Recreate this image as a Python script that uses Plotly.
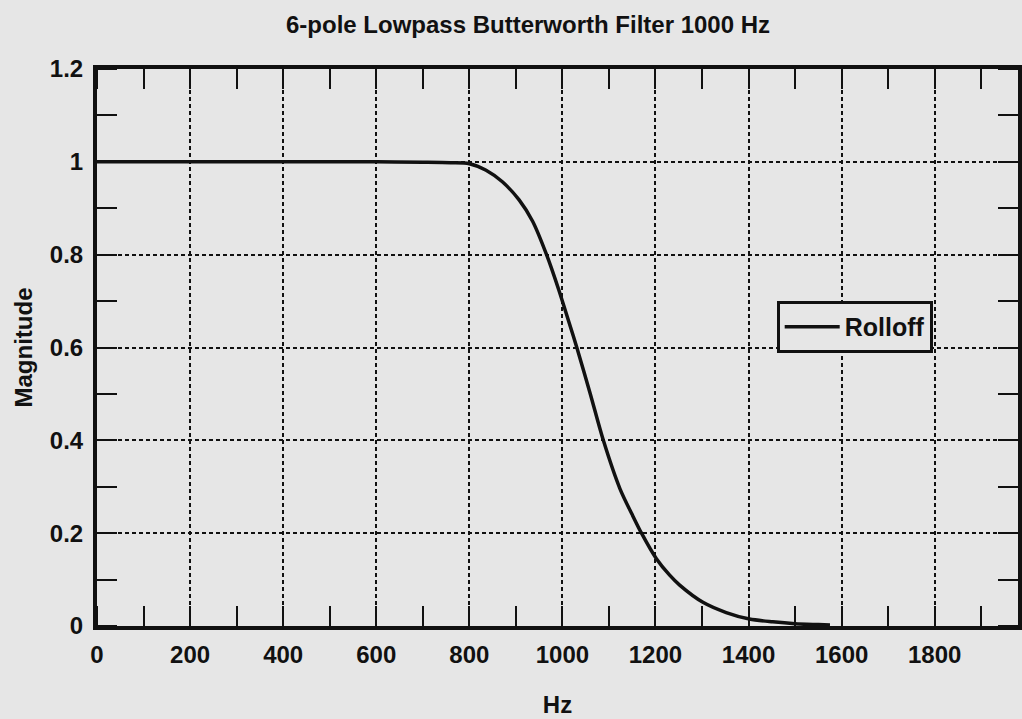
"""6-pole lowpass Butterworth rolloff, scanned-plot look."""
import plotly.graph_objects as go

# values
freq_hz = [0, 200, 400, 600, 700, 760, 800, 836, 871, 907, 936, 966, 992,
           1014, 1031, 1060, 1088, 1124, 1150, 1170, 1202, 1230, 1252, 1302,
           1352, 1402, 1452, 1500, 1550, 1575]
magnitude = [1.0, 1.0, 1.0, 1.0, 0.999, 0.998, 0.996, 0.982, 0.957, 0.918,
             0.872, 0.80, 0.725, 0.655, 0.60, 0.50, 0.40, 0.295, 0.24, 0.20,
             0.145, 0.11, 0.088, 0.051, 0.029, 0.015, 0.009, 0.005, 0.003,
             0.002]

x_labels = [0, 200, 400, 600, 800, 1000, 1200, 1400, 1600, 1800]
y_labels = [0, 0.2, 0.4, 0.6, 0.8, 1, 1.2]

PAPER = "#e6e6e6"
INK = "#111111"
FONT = "Liberation Sans, Arial, sans-serif"

fig = go.Figure()
fig.add_trace(
    go.Scatter(
        x=freq_hz, y=magnitude, mode="lines", name="Rolloff",
        line=dict(color=INK, width=3.5, shape="spline", smoothing=0.8),
    )
)

axis_common = dict(
    showline=True, linecolor=INK, linewidth=4, mirror="ticks",
    showgrid=True, gridcolor=INK, gridwidth=2, griddash="4px,3px",
    zeroline=False, ticks="",
    tickfont=dict(family=FONT, size=24, color=INK, weight="bold"),
)

fig.update_layout(
    width=1022, height=719,
    margin=dict(l=97, r=0, t=69, b=93),
    paper_bgcolor=PAPER, plot_bgcolor=PAPER,
    title=dict(
        text="6-pole Lowpass Butterworth Filter 1000 Hz",
        font=dict(family=FONT, size=24, color=INK, weight="bold"),
        x=0.468, xref="paper", xanchor="center",
        y=1 - 25 / 719, yref="container", yanchor="middle",
    ),
    xaxis=dict(
        **axis_common,
        range=[0, 1979], tickvals=x_labels, ticktext=[str(v) for v in x_labels],
        minor=dict(dtick=100, tick0=0, ticks="inside", ticklen=20,
                   tickwidth=2, tickcolor=INK, showgrid=False),
        ticklabelstandoff=4,
        title=dict(text="Hz", standoff=30,
                   font=dict(family=FONT, size=24, color=INK, weight="bold")),
    ),
    yaxis=dict(
        **axis_common,
        range=[0, 1.2], tickvals=y_labels, ticktext=[f"{v:g}" for v in y_labels],
        minor=dict(dtick=0.1, tick0=0, ticks="inside", ticklen=20,
                   tickwidth=2, tickcolor=INK, showgrid=False),
        ticklabelstandoff=5,
        title=dict(text="Magnitude", standoff=11,
                   font=dict(family=FONT, size=24, color=INK, weight="bold")),
    ),
    legend=dict(
        x=0.738, y=0.5835, xanchor="left", yanchor="top",
        bgcolor=PAPER, bordercolor=INK, borderwidth=3,
        itemwidth=55, entrywidth=148, entrywidthmode="pixels",
        font=dict(family=FONT, size=25, color=INK, weight="bold"),
    ),
    showlegend=True,
)

# page body has an 8px default margin; drop it so the figure fills the window
fig.write_html(
    "out.html",
    config={"displayModeBar": False},
    post_script="document.body.style.margin='0';"
                "document.body.style.background='" + PAPER + "';",
)
